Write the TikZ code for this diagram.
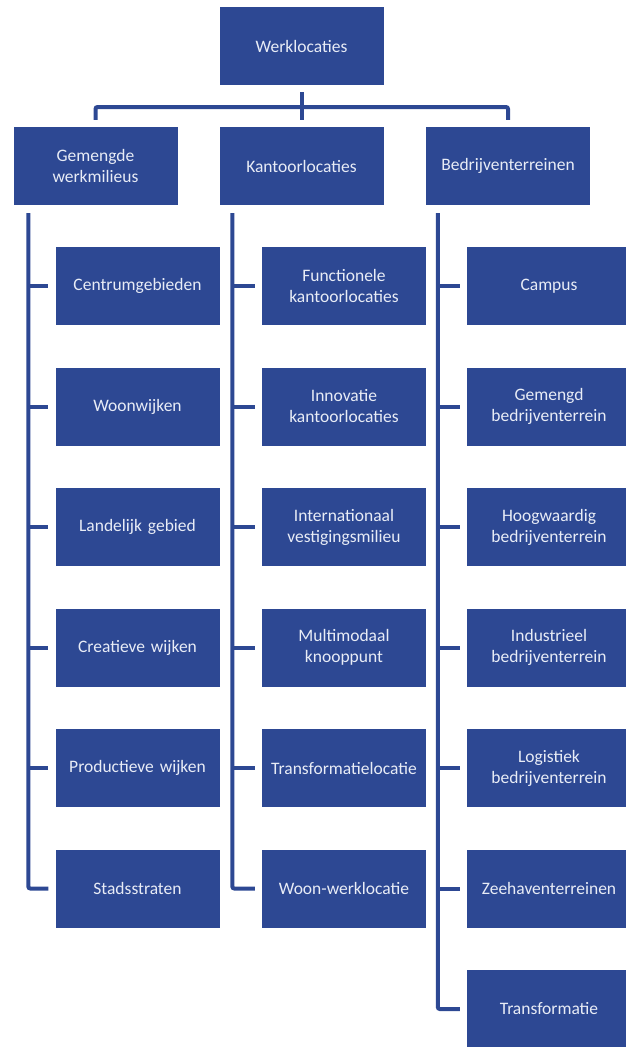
\documentclass[tikz,border=0pt]{standalone}
\usepackage{fontspec}
\setmainfont{Carlito}
\definecolor{boxblue}{HTML}{2D4893}
\definecolor{txt}{HTML}{E8ECF6}
\begin{document}
\begin{tikzpicture}[x=1pt,y=1pt,
  box/.style={rectangle, fill=boxblue, minimum width=164pt, minimum height=78pt,
    text width=160pt, align=center, inner sep=0pt, text=txt,
    font=\fontsize{17.5}{21}\selectfont},
  conn/.style={draw=boxblue, line width=4pt, rounded corners=2pt}]
\useasboundingbox (0,0) rectangle (626,-1047);
\clip (0,0) rectangle (626,-1047);
% top
\node[box] (top) at (301.5,-46) {Werklocaties};
\node[box] (g) at (95.5,-166) {Gemengde\\werkmilieus};
\node[box] (k) at (301.5,-166) {Kantoorlocaties};
\node[box] (b) at (508,-166) {Bedrijventerreinen};
% connectors top
\draw[conn] ([yshift=7pt]g.north) |- (301.5,-107) -| ([yshift=7pt]b.north);
\draw[conn, rounded corners=0pt] ([yshift=-7pt]top.south) -- ([yshift=7pt]k.north);
% children
\foreach \n/\t [count=\i] in {g1/Centrumgebieden, g2/Woonwijken, g3/Landelijk gebied, g4/Creatieve wijken, g5/Productieve wijken, g6/Stadsstraten}{
  \node[box] (\n) at (137.5,{-286-120.5*(\i-1)}) {\t};
}
\foreach \n/\t [count=\i] in {k1/Functionele\\kantoorlocaties, k2/Innovatie\\kantoorlocaties, k3/Internationaal\\vestigingsmilieu, k4/Multimodaal\\knooppunt, k5/Transformatielocatie, k6/Woon-werklocatie}{
  \node[box] (\n) at (344,{-286-120.5*(\i-1)}) {\t};
}
\foreach \n/\t [count=\i] in {b1/Campus, b2/Gemengd\\bedrijventerrein, b3/Hoogwaardig\\bedrijventerrein, b4/Industrieel\\bedrijventerrein, b5/Logistiek\\bedrijventerrein, b6/Zeehaventerreinen, b7/Transformatie}{
  \node[box] (\n) at (549,{-286-120.5*(\i-1)}) {\t};
}
% vertical spines
\coordinate (gs) at ([xshift=15pt,yshift=-8pt]g.south west);
\coordinate (ks) at ([xshift=13pt,yshift=-8pt]k.south west);
\coordinate (bs) at ([xshift=12pt,yshift=-8pt]b.south west);
\draw[conn] (gs) |- ([xshift=-7pt]g6.west);
\draw[conn] (ks) |- ([xshift=-7pt]k6.west);
\draw[conn] (bs) |- ([xshift=-7pt]b7.west);
\foreach \n in {g1,g2,g3,g4,g5}{
  \draw[conn, rounded corners=0pt] (gs |- \n.west) -- ([xshift=-7pt]\n.west);
}
\foreach \n in {k1,k2,k3,k4,k5}{
  \draw[conn, rounded corners=0pt] (ks |- \n.west) -- ([xshift=-7pt]\n.west);
}
\foreach \n in {b1,b2,b3,b4,b5,b6}{
  \draw[conn, rounded corners=0pt] (bs |- \n.west) -- ([xshift=-7pt]\n.west);
}
\end{tikzpicture}
\end{document}
